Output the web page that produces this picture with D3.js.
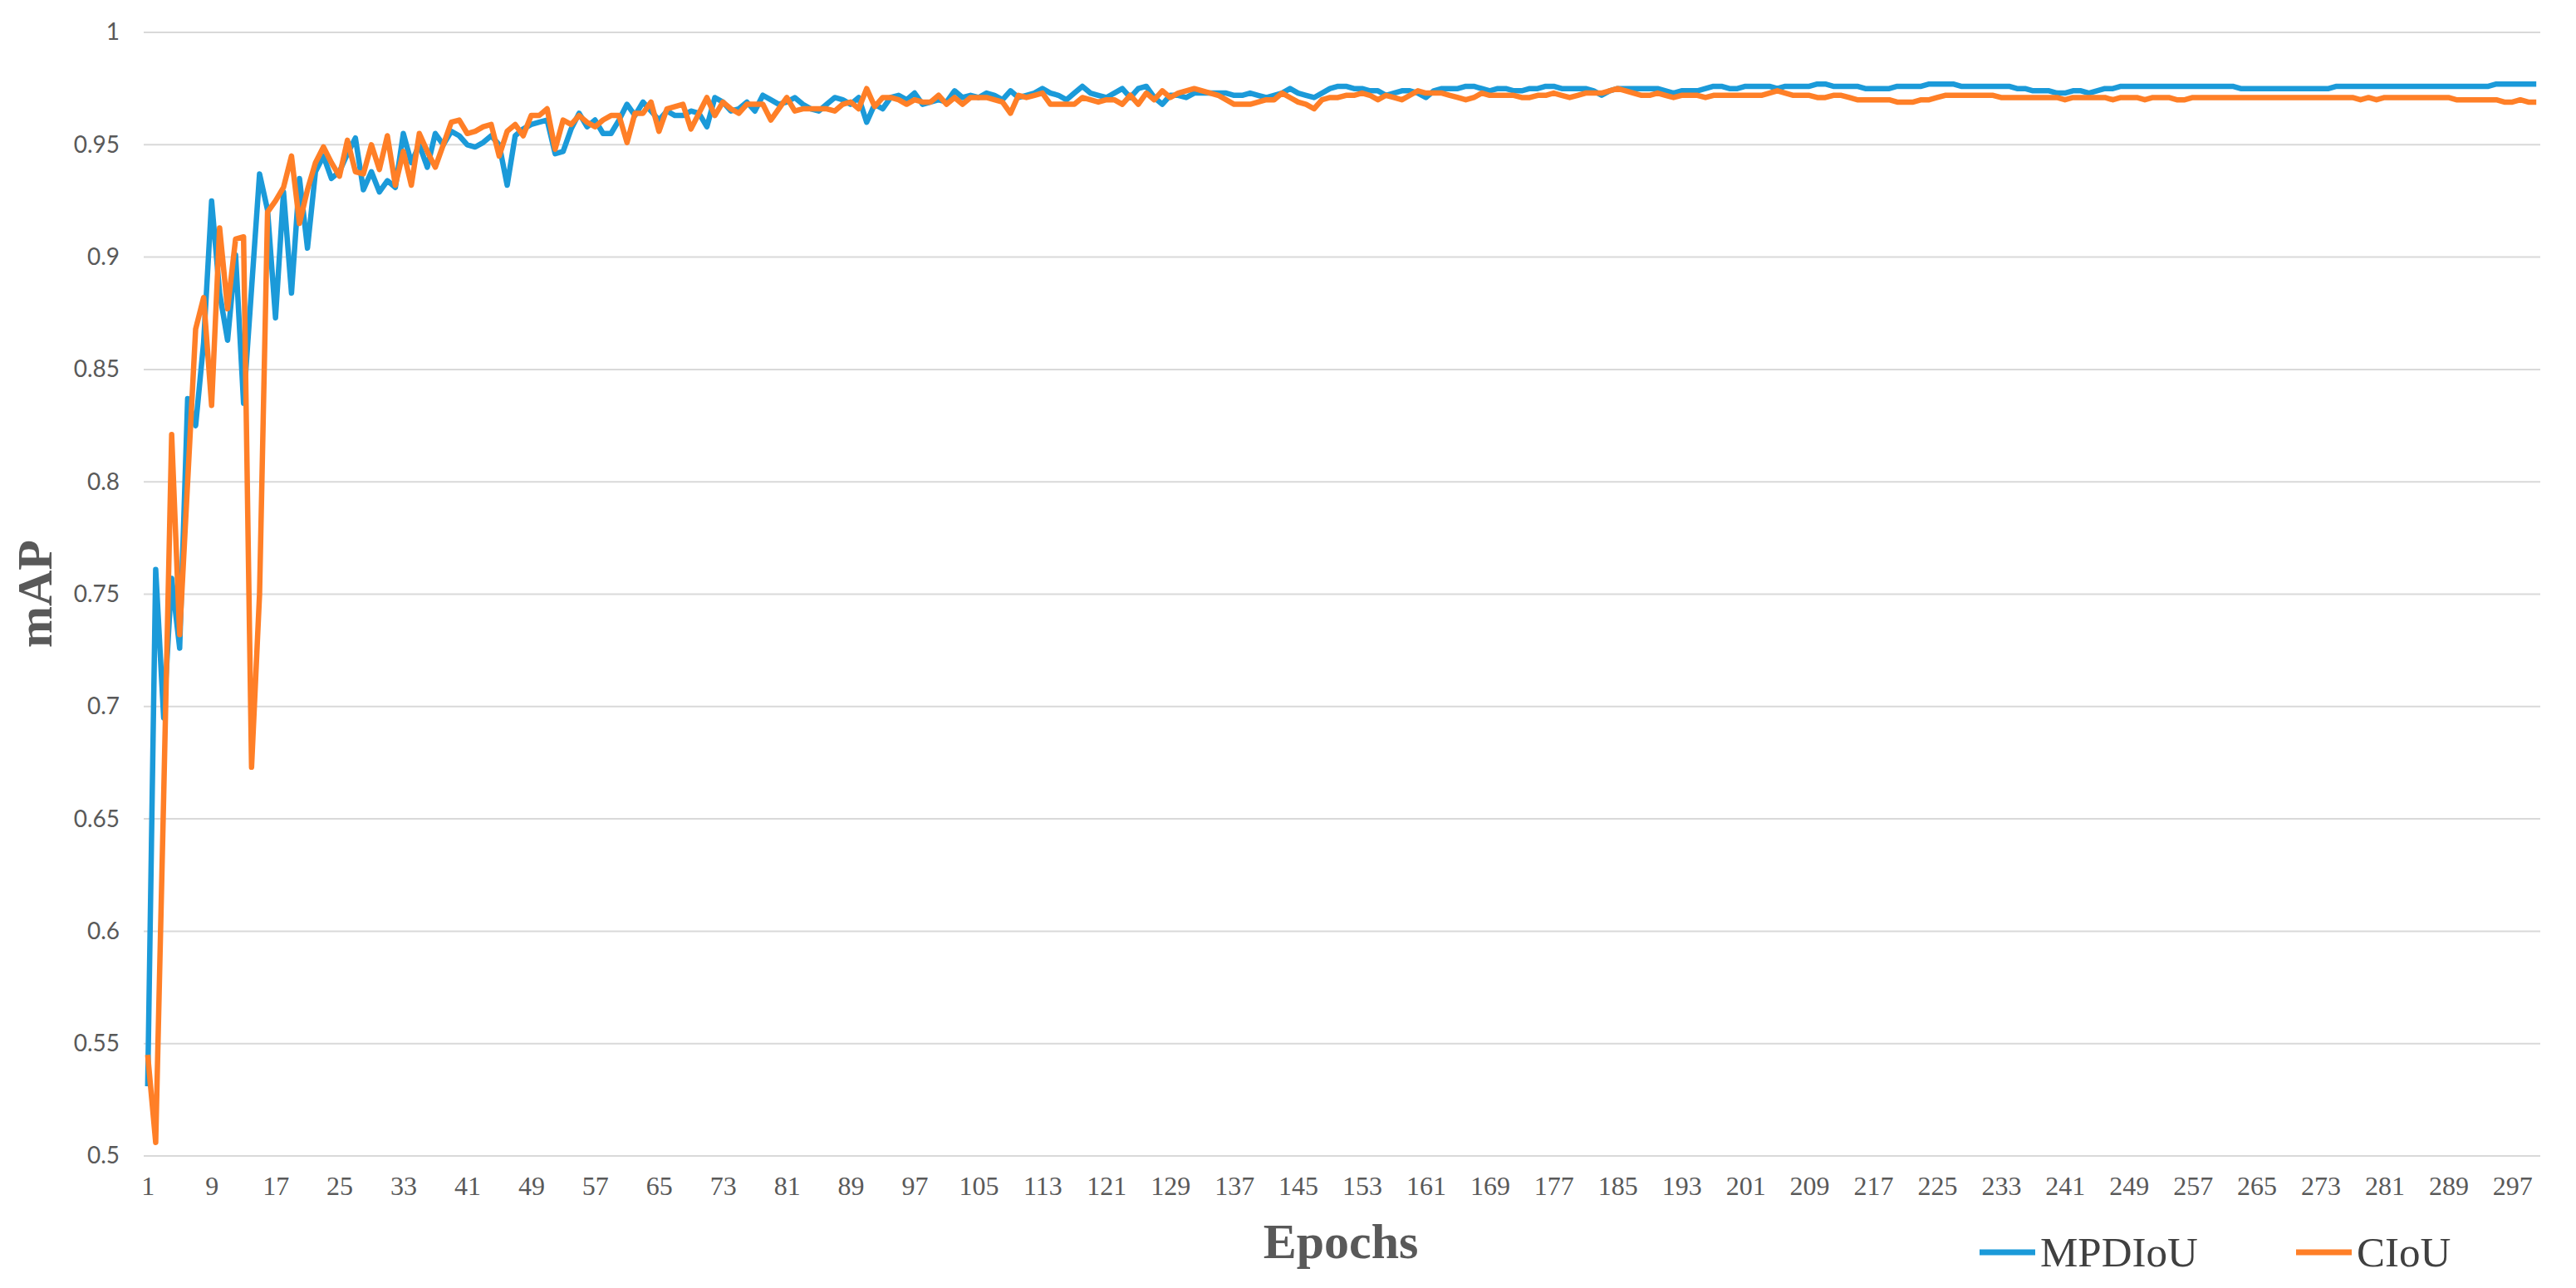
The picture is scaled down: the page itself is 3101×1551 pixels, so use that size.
<!DOCTYPE html>
<html>
<head>
<meta charset="utf-8">
<script src="https://cdn.jsdelivr.net/npm/d3@7/dist/d3.min.js"></script>
<style>
  body { margin: 0; background: #fff; }
  .y-tick { font-family: Lato, "Open Sans", sans-serif; font-size: 28px; fill: #595959; }
  .x-tick { font-family: "Liberation Serif", "Times New Roman", serif; font-size: 32px; fill: #595959; }
  .axis-title { font-family: "Liberation Serif", "Times New Roman", serif; font-weight: bold; font-size: 60px; fill: #595959; }
  .legend-text { font-family: "Liberation Serif", "Times New Roman", serif; font-size: 51px; fill: #404040; }
</style>
</head>
<body>
<div id="chart"></div>
<script>
// mAP per epoch (epochs 1..300)
const mpdiou = [
  .531,.761,.695,.757,.726,.837,.825,.862,.925,.884,
  .863,.901,.835,.886,.937,.921,.873,.929,.884,.935,
  .904,.938,.945,.935,.938,.946,.953,.930,.938,.929,
  .934,.931,.955,.942,.950,.940,.955,.950,.956,.954,
  .950,.949,.951,.954,.950,.932,.954,.957,.959,.960,
  .961,.946,.947,.957,.964,.958,.961,.955,.955,.961,
  .968,.963,.969,.965,.961,.965,.963,.963,.965,.964,
  .958,.971,.969,.965,.966,.969,.965,.972,.970,.968,
  .969,.971,.968,.966,.965,.968,.971,.970,.968,.971,
  .960,.968,.966,.971,.972,.970,.973,.968,.969,.970,
  .969,.974,.971,.972,.971,.973,.972,.970,.974,.971,
  .972,.973,.975,.973,.972,.970,.973,.976,.973,.972,
  .971,.973,.975,.971,.975,.976,.971,.968,.972,.972,
  .971,.973,.973,.973,.973,.973,.972,.972,.973,.972,
  .971,.972,.973,.975,.973,.972,.971,.973,.975,.976,
  .976,.975,.975,.974,.974,.972,.973,.974,.974,.973,
  .971,.974,.975,.975,.975,.976,.976,.975,.974,.975,
  .975,.974,.974,.975,.975,.976,.976,.975,.975,.975,
  .975,.974,.972,.974,.975,.975,.975,.975,.975,.975,
  .974,.973,.974,.974,.974,.975,.976,.976,.975,.975,
  .976,.976,.976,.976,.975,.976,.976,.976,.976,.977,
  .977,.976,.976,.976,.976,.975,.975,.975,.975,.976,
  .976,.976,.976,.977,.977,.977,.977,.976,.976,.976,
  .976,.976,.976,.976,.975,.975,.974,.974,.974,.973,
  .973,.974,.974,.973,.974,.975,.975,.976,.976,.976,
  .976,.976,.976,.976,.976,.976,.976,.976,.976,.976,
  .976,.976,.975,.975,.975,.975,.975,.975,.975,.975,
  .975,.975,.975,.975,.976,.976,.976,.976,.976,.976,
  .976,.976,.976,.976,.976,.976,.976,.976,.976,.976,
  .976,.976,.976,.976,.977,.977,.977,.977,.977,.977
];

const ciou = [
  .545,.506,.660,.821,.732,.800,.868,.882,.834,.913,
  .877,.908,.909,.673,.750,.920,.925,.931,.945,.915,
  .930,.942,.949,.942,.936,.952,.938,.937,.950,.939,
  .954,.932,.947,.932,.955,.947,.940,.950,.960,.961,
  .955,.956,.958,.959,.945,.956,.959,.954,.963,.963,
  .966,.948,.961,.959,.963,.960,.958,.961,.963,.963,
  .951,.964,.964,.969,.956,.966,.967,.968,.957,.964,
  .971,.963,.969,.966,.964,.968,.968,.968,.961,.966,
  .971,.965,.966,.966,.966,.966,.965,.968,.969,.966,
  .975,.967,.971,.971,.970,.968,.970,.969,.969,.972,
  .968,.971,.968,.971,.971,.971,.970,.969,.964,.972,
  .971,.972,.973,.968,.968,.968,.968,.971,.970,.969,
  .970,.970,.968,.972,.968,.973,.970,.974,.971,.973,
  .974,.975,.974,.973,.972,.970,.968,.968,.968,.969,
  .970,.970,.973,.971,.969,.968,.966,.970,.971,.971,
  .972,.972,.973,.972,.970,.972,.971,.970,.972,.974,
  .973,.973,.973,.972,.971,.970,.971,.973,.972,.972,
  .972,.972,.971,.971,.972,.972,.973,.972,.971,.972,
  .973,.973,.973,.974,.975,.974,.973,.972,.972,.973,
  .972,.971,.972,.972,.972,.971,.972,.972,.972,.972,
  .972,.972,.972,.973,.974,.973,.972,.972,.972,.971,
  .971,.972,.972,.971,.970,.970,.970,.970,.970,.969,
  .969,.969,.970,.970,.971,.972,.972,.972,.972,.972,
  .972,.972,.971,.971,.971,.971,.971,.971,.971,.971,
  .970,.971,.971,.971,.971,.971,.970,.971,.971,.971,
  .970,.971,.971,.971,.970,.970,.971,.971,.971,.971,
  .971,.971,.971,.971,.971,.971,.971,.971,.971,.971,
  .971,.971,.971,.971,.971,.971,.971,.970,.971,.970,
  .971,.971,.971,.971,.971,.971,.971,.971,.971,.970,
  .970,.970,.970,.970,.970,.969,.969,.970,.969,.969
];

const yTicks = [0.5, 0.55, 0.6, 0.65, 0.7, 0.75, 0.8, 0.85, 0.9, 0.95, 1];
const xTickLabels = [1, 9, 17, 25, 33, 41, 49, 57, 65, 73, 81, 89, 97, 105, 113, 121, 129, 137,
  145, 153, 161, 169, 177, 185, 193, 201, 209, 217, 225, 233, 241, 249, 257, 265, 273, 281, 289, 297];

const seriesNames = ["MPDIoU", "CIoU"];
const seriesColors = ["#1b9ad9", "#ff7f27"];

const width = 3101, height = 1551;
const plot = { left: 173, right: 3058, top: 39, bottom: 1392 };

const svg = d3.select("#chart").append("svg")
  .attr("width", width)
  .attr("height", height);

const epochs = mpdiou.map((_, i) => i + 1);

// category axis like excel: every epoch sits in the middle of its band
const xScale = d3.scalePoint()
  .domain(epochs)
  .range([plot.left, plot.right])
  .padding(0.5);

const yScale = d3.scaleLinear()
  .domain([0.5, 1])
  .range([plot.bottom, plot.top]);

// gridlines
svg.append("g")
  .selectAll("line")
  .data(yTicks)
  .join("line")
    .attr("x1", plot.left)
    .attr("x2", plot.right)
    .attr("y1", d => yScale(d))
    .attr("y2", d => yScale(d))
    .attr("stroke", "#d9d9d9")
    .attr("stroke-width", 2);

// y axis labels
const yAxis = d3.axisLeft(yScale)
  .tickValues(yTicks)
  .tickSize(0)
  .tickPadding(29)
  .tickFormat(d => d3.format("")(+d.toFixed(2)));

svg.append("g")
  .attr("transform", `translate(${plot.left},0)`)
  .call(yAxis)
  .call(g => g.select(".domain").remove())
  .call(g => g.selectAll("text").attr("class", "y-tick").attr("font-size", null).attr("font-family", null).attr("fill", null));

// x axis labels
const xAxis = d3.axisBottom(xScale)
  .tickValues(xTickLabels)
  .tickSize(0)
  .tickPadding(24);

svg.append("g")
  .attr("transform", `translate(0,${plot.bottom})`)
  .call(xAxis)
  .call(g => g.select(".domain").remove())
  .call(g => g.selectAll("text").attr("class", "x-tick").attr("font-size", null).attr("font-family", null).attr("fill", null));

// lines
const line = d3.line()
  .x((d, i) => xScale(epochs[i]))
  .y(d => yScale(d));

[mpdiou, ciou].forEach((values, k) => {
  svg.append("path")
    .datum(values)
    .attr("fill", "none")
    .attr("stroke", seriesColors[k])
    .attr("stroke-width", 6.5)
    .attr("stroke-linejoin", "round")
    .attr("d", line);
});

// axis titles
svg.append("text")
  .attr("class", "axis-title")
  .attr("text-anchor", "middle")
  .attr("transform", "translate(62,715) rotate(-90)")
  .text("mAP");

svg.append("text")
  .attr("class", "axis-title")
  .attr("text-anchor", "middle")
  .attr("x", 1614)
  .attr("y", 1515)
  .text("Epochs");

// legend
const legendX = [2383, 2764];
const legend = svg.append("g");
seriesNames.forEach((name, k) => {
  legend.append("line")
    .attr("x1", legendX[k])
    .attr("x2", legendX[k] + 67)
    .attr("y1", 1508)
    .attr("y2", 1508)
    .attr("stroke", seriesColors[k])
    .attr("stroke-width", 7);
  legend.append("text")
    .attr("class", "legend-text")
    .attr("x", legendX[k] + 73)
    .attr("y", 1525)
    .text(name);
});
</script>
</body>
</html>
